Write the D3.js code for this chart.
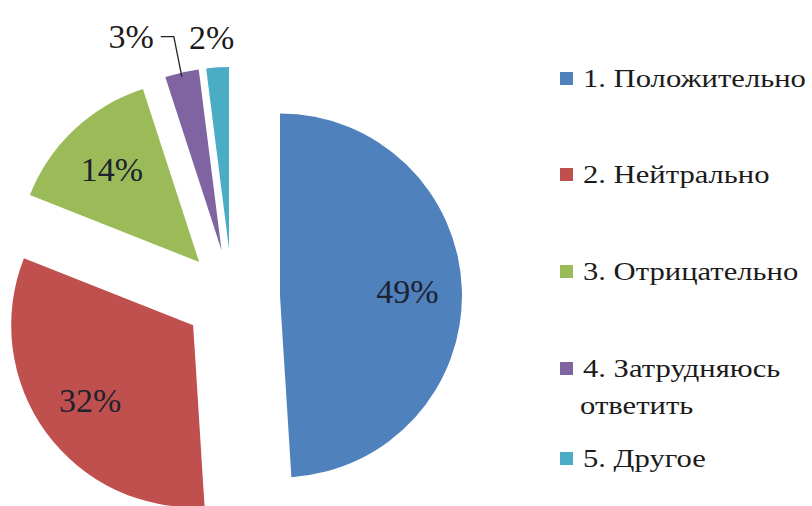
<!DOCTYPE html>
<html>
<head>
<script src="https://cdn.jsdelivr.net/npm/d3@7"></script>
</head>
<body style="margin:0">
<svg id="chart" width="812" height="506"></svg>
<script>
// DATA
var categories = ["1. Положительно", "2. Нейтрально", "3. Отрицательно", "4. Затрудняюсь ответить", "5. Другое"];
var values = [49, 32, 14, 3, 2];
var labels = ["49%", "32%", "14%", "3%", "2%"];
var colors = ["#4F81BD", "#C0504D", "#9BBB59", "#8064A2", "#4BACC6"];
// legend text split into lines
var legendLines = [["1. Положительно"], ["2. Нейтрально"], ["3. Отрицательно"], ["4. Затрудняюсь", "ответить"], ["5. Другое"]];

var FONT = '"Liberation Serif", Tinos, "Times New Roman", Times';
var width = 812;
var height = 506;
var cx = 232;
var cy = 297;
var radius = 182;
var explode = 48;

var svg = d3.select("#chart");

var pie = d3.pie().sort(null).value((d) => d);
var arcs = pie(values);

var arc = d3.arc().innerRadius(0).outerRadius(radius);
var labelArc = d3.arc().innerRadius(radius * 0.7).outerRadius(radius * 0.7);

function offset(d) {
  var mid = (d.startAngle + d.endAngle) / 2;
  return [Math.sin(mid) * explode, -Math.cos(mid) * explode];
}

var pieG = svg.append("g").attr("transform", `translate(${cx}, ${cy})`);

var slices = pieG
  .selectAll("g.slice")
  .data(arcs)
  .enter()
  .append("g")
  .attr("class", "slice")
  .attr("transform", (d) => `translate(${offset(d)[0]}, ${offset(d)[1]})`);

slices
  .append("path")
  .attr("d", arc)
  .attr("fill", (d, i) => colors[i]);

// INSIDE LABELS (big slices)
slices
  .filter((d) => d.value >= 10)
  .append("text")
  .attr("x", (d) => labelArc.centroid(d)[0])
  .attr("y", (d) => labelArc.centroid(d)[1])
  .attr("text-anchor", "middle")
  .attr("dy", "0.35em")
  .style("font-family", FONT)
  .attr("font-size", 34)
  .attr("fill", "#1d2230")
  .text((d) => labels[d.index]);

// OUTSIDE LABELS (small slices)
var outArc = d3.arc().innerRadius(radius).outerRadius(radius);
var purple = arcs[3];
var cyan = arcs[4];
var pEdge = outArc.centroid(purple);
var pOff = offset(purple);
var px = pEdge[0] + pOff[0];
var py = pEdge[1] + pOff[1];

pieG
  .append("path")
  .attr("d", `M${px},${py + 4} L${px - 8},${py - 36} L${px - 21},${py - 36}`)
  .attr("fill", "none")
  .attr("stroke", "#222")
  .attr("stroke-width", 1.3);

pieG
  .append("text")
  .attr("x", px - 28)
  .attr("y", py - 36)
  .attr("dy", "0.35em")
  .attr("text-anchor", "end")
  .style("font-family", FONT)
  .attr("font-size", 34)
  .attr("fill", "#1b1b1b")
  .text(labels[3]);

var cEdge = outArc.centroid(cyan);
var cOff = offset(cyan);
pieG
  .append("text")
  .attr("x", cEdge[0] + cOff[0] - 6)
  .attr("y", cEdge[1] + cOff[1] - 30)
  .attr("dy", "0.35em")
  .attr("text-anchor", "middle")
  .style("font-family", FONT)
  .attr("font-size", 34)
  .attr("fill", "#1b1b1b")
  .text(labels[4]);

// LEGEND
var legendX = 560;
var legendTextX = 583;
var legendRight = 806;
var rowY = [78, 174, 271, 368, 458];
var legend = svg.append("g");

legendLines.forEach(function (lines, i) {
  legend
    .append("rect")
    .attr("x", legendX)
    .attr("y", rowY[i] - 6)
    .attr("width", 13)
    .attr("height", 13)
    .attr("fill", colors[i]);
  lines.forEach(function (line, j) {
    legend
      .append("text")
      .attr("class", "legend-text")
      .attr("data-x", legendTextX - (j == 0 ? 0 : 3))
      .attr("data-y", rowY[i] + j * 37)
      .attr("dy", "0.35em")
      .style("font-family", FONT)
      .attr("font-size", 26)
      .attr("fill", "#1b1b1b")
      .text(line);
  });
});

// stretch legend text so first row fills out to the right edge like the source
var firstWidth = legend.select("text.legend-text").node().getComputedTextLength();
var sx = (legendRight - legendTextX) / firstWidth;
legend.selectAll("text.legend-text").attr("transform", function () {
  var t = d3.select(this);
  return `translate(${t.attr("data-x")}, ${t.attr("data-y")}) scale(${sx}, 1)`;
});
</script>
</body>
</html>
